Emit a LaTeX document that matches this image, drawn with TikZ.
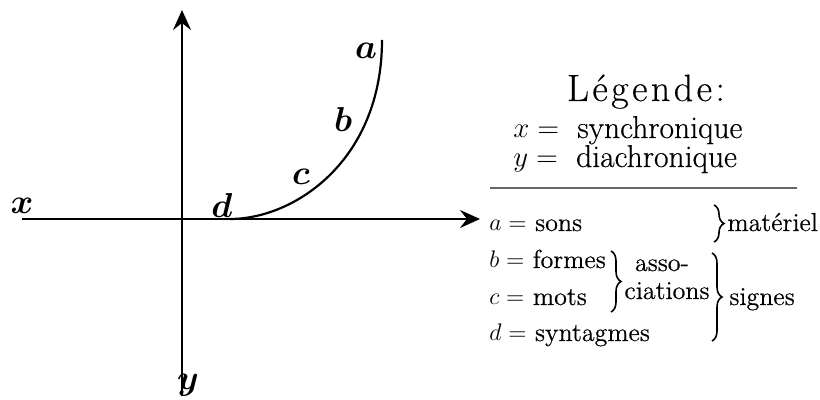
\documentclass[tikz,border=0pt]{standalone}
\usepackage{fontspec}
\usepackage{bm}
\usetikzlibrary{arrows.meta,decorations.pathreplacing}
\newfontfamily\spacedfont{Latin Modern Roman}[LetterSpace=9,FakeBold=0.3]
\newfontfamily\legfont{Latin Modern Roman}[FakeBold=0.4]
\tikzset{
  axis/.style={line width=1.3pt,-{Stealth[length=10pt,width=9pt,inset=3.5pt]}},
  curvelabel/.style={inner sep=0pt,font=\fontsize{19}{21}\selectfont},
  legend/.style={inner sep=0pt,anchor=base west,font=\fontsize{15.8}{18}\legfont},
  block/.style={inner sep=0pt,anchor=base west,font=\fontsize{13}{15}\legfont},
  bracestyle/.style={decorate,decoration={brace,amplitude=5pt},line width=0.8pt}
}
\begin{document}
\begin{tikzpicture}[x=0.5pt,y=-0.5pt]
\useasboundingbox (0,0) rectangle (820,400);
% axes
\coordinate (xl) at (22,219);
\coordinate (xr) at (480,219);
\coordinate (yb) at (182,396);
\coordinate (yt) at (182,10);
\coordinate (o) at (182,219);
\draw[axis] (xl) -- (xr);
\draw[line width=1.3pt] (yb) -- (o);
\draw[axis] (o) -- (yt);
% curve
\coordinate (d0) at (230,219);
\coordinate (a0) at (382,40);
\draw[line width=1.1pt] (d0) .. controls (295,219) and (382,160) .. (a0);
% labels
\node[curvelabel] (lx) at (22,206) {$\bm{x}$};
\node[curvelabel] (ly) at (188,385) {$\bm{y}$};
\node[curvelabel] (ld) at (222,206) {$\bm{d}$};
\node[curvelabel] (lc) at (301,177) {$\bm{c}$};
\node[curvelabel] (lb) at (343,120) {$\bm{b}$};
\node[curvelabel] (la) at (366,51) {$\bm{a}$};
% legend
\node[inner sep=0pt,anchor=base] (leg) at (646,101) {\fontsize{19}{21}\spacedfont Légende:};
\node[legend] (lsx) at (513,138) {$x$\hspace{4pt}$=$\hspace{9pt}synchronique};
\node[legend] (lsy) at (513,167) {$y$\hspace{4pt}$=$\hspace{9pt}diachronique};
\draw[line width=0.6pt,black!60] (490,188) -- (797,188);
\node[block] (ea) at (489,231) {$a =$ sons};
\node[block] (eb) at (489,268) {$b =$ formes};
\node[block] (ec) at (489,305) {$c =$ mots};
\node[block] (ed) at (489,341) {$d =$ syntagmes};
\node[block] (mat) at (727,231) {matériel};
\node[block,anchor=base] (asso) at (662,271) {asso-};
\node[block,anchor=base] (ciat) at (667,299) {ciations};
\node[block] (sig) at (729,305) {signes};
% braces
\draw[bracestyle] (714,205) -- (714,242);
\draw[bracestyle] (611,251) -- (611,312);
\draw[bracestyle] (712,253) -- (712,341);
\end{tikzpicture}
\end{document}
